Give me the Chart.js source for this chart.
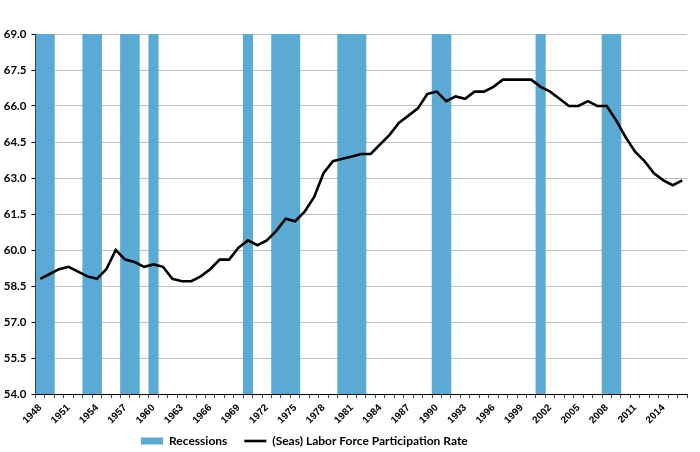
<!DOCTYPE html>
<html>
<head>
<meta charset="utf-8">
<script src="https://cdn.jsdelivr.net/npm/chart.js@4/dist/chart.umd.min.js"></script>
<style>
  html, body { margin: 0; padding: 0; background: #ffffff; }
  #wrap { width: 700px; height: 452px; position: relative; }
</style>
</head>
<body>
<div id="wrap"><canvas id="c" width="700" height="452"></canvas></div>
<script>
// ---- data ----
const years = [];
for (let y = 1948; y <= 2016; y++) years.push(String(y));

const recessionYears = [1948, 1949, 1953, 1954, 1957, 1958, 1960, 1970, 1973, 1974, 1975,
                        1980, 1981, 1982, 1990, 1991, 2001, 2008, 2009];

const participationRate = [
  58.8, 59.0, 59.2, 59.3, 59.1, 58.9, 58.8, 59.2, 60.0, 59.6,   // 1948-1957
  59.5, 59.3, 59.4, 59.3, 58.8, 58.7, 58.7, 58.9, 59.2, 59.6,   // 1958-1967
  59.6, 60.1, 60.4, 60.2, 60.4, 60.8, 61.3, 61.2, 61.6, 62.2,   // 1968-1977
  63.2, 63.7, 63.8, 63.9, 64.0, 64.0, 64.4, 64.8, 65.3, 65.6,   // 1978-1987
  65.9, 66.5, 66.6, 66.2, 66.4, 66.3, 66.6, 66.6, 66.8, 67.1,   // 1988-1997
  67.1, 67.1, 67.1, 66.8, 66.6, 66.3, 66.0, 66.0, 66.2, 66.0,   // 1998-2007
  66.0, 65.4, 64.7, 64.1, 63.7, 63.2, 62.9, 62.7, 62.9          // 2008-2016
];

const yMin = 54.0, yMax = 69.0, yStep = 1.5;
const xLabelEvery = 3;

const recessionData = years.map(y => recessionYears.includes(Number(y)) ? yMax : null);

// ---- chart ----
const FONT = "'Lato', 'Open Sans', 'DejaVu Sans', sans-serif";

const legendPos = {
  id: 'legendPos',
  afterLayout(chart) {
    const lg = chart.legend;
    if (!lg) return;
    const P = lg.options.labels.padding;
    const w = lg.right - lg.left;
    lg.left = 141 - P;
    lg.right = lg.left + w;
    lg.top = 435 - P;
    lg.bottom = 452;
    lg.height = lg.bottom - lg.top;
  }
};

new Chart(document.getElementById('c'), {
  data: {
    labels: years,
    datasets: [
      {
        type: 'bar',
        label: 'Recessions',
        data: recessionData,
        backgroundColor: '#5aaad4',
        borderWidth: 0,
        barPercentage: 1.0,
        categoryPercentage: 1.0,
        order: 2,
        pointStyle: 'rect'
      },
      {
        type: 'line',
        label: '(Seas) Labor Force Participation Rate',
        data: participationRate,
        borderColor: '#000000',
        backgroundColor: '#000000',
        borderWidth: 2.6,
        pointRadius: 0,
        tension: 0,
        order: 1,
        pointStyle: 'line'
      }
    ]
  },
  plugins: [legendPos],
  options: {
    responsive: false,
    animation: false,
    layout: { padding: { left: 0, right: 13, top: 34, bottom: 0 } },
    plugins: {
      tooltip: { enabled: false },
      legend: {
        position: 'bottom',
        align: 'start',
        maxHeight: 20,
        labels: {
          usePointStyle: true,
          pointStyleWidth: 22,
          boxWidth: 22,
          boxHeight: 7,
          padding: 17,
          color: '#000000',
          font: { family: FONT, size: 12, weight: 'bold' },
          sort: (a, b) => a.datasetIndex - b.datasetIndex
        }
      }
    },
    scales: {
      x: {
        type: 'category',
        offset: true,
        afterFit(scale) { scale.height = 38; },
        grid: {
          offset: true,
          drawOnChartArea: false,
          drawTicks: true,
          tickLength: 4,
          tickColor: '#404040'
        },
        border: { display: true, color: '#000000', width: 1 },
        ticks: {
          autoSkip: false,
          minRotation: 45,
          maxRotation: 45,
          padding: 4,
          color: '#000000',
          font: { family: 'sans-serif', size: 10, weight: 'bold' },
          callback(value, index) { return index % xLabelEvery === 0 ? this.getLabelForValue(value) : ''; }
        }
      },
      y: {
        type: 'linear',
        min: yMin,
        max: yMax,
        afterFit(scale) { scale.width = 35.5; },
        grid: {
          color: '#bfbfbf',
          lineWidth: 1,
          drawTicks: true,
          tickLength: 4,
          tickColor: '#000000'
        },
        border: { display: true, color: '#000000', width: 1 },
        ticks: {
          stepSize: yStep,
          padding: 5,
          color: '#000000',
          font: { family: FONT, size: 11.5, weight: 'bold' },
          callback(v) { return Number(v).toFixed(1); }
        }
      }
    }
  }
});
</script>
</body>
</html>
